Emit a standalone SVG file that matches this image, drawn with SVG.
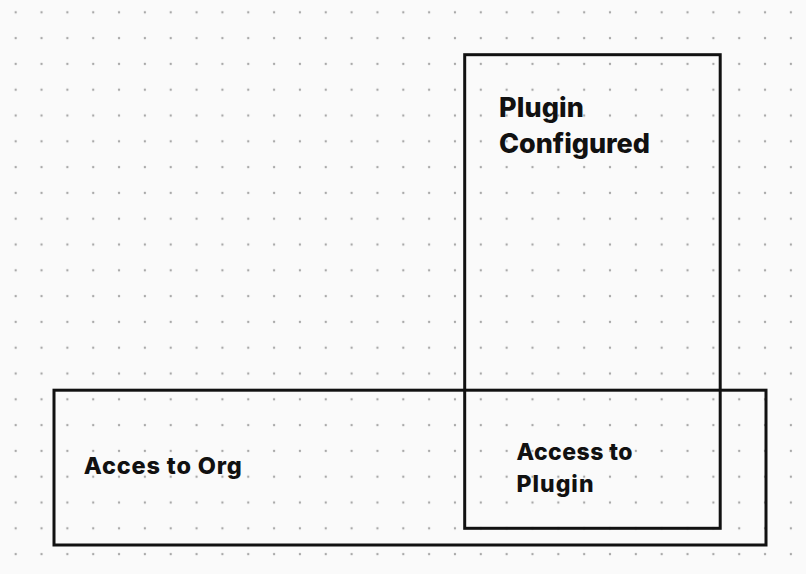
<svg xmlns="http://www.w3.org/2000/svg" width="806" height="574" viewBox="0 0 806 574">
<style>
.box{fill:none;stroke:#111;stroke-width:3}
.lbl{font-family:Inter,"Liberation Sans",sans-serif;font-weight:800;fill:#111}
</style>
<defs>
<pattern id="dots" patternUnits="userSpaceOnUse" x="2.78" y="-0.6" width="25.84" height="25.8">
<circle cx="12.92" cy="12.9" r="1.2" fill="#a8a8a8"/>
</pattern>
</defs>
<rect width="806" height="574" fill="#fafafa"/>
<rect width="806" height="574" fill="url(#dots)"/>
<g id="node-plugin-configured">
<rect class="box" x="464.7" y="54.7" width="255.5" height="473.6"/>
<text class="lbl" font-size="27" x="499" y="117.3" textLength="85" lengthAdjust="spacing">Plugin</text>
<text class="lbl" font-size="27" x="499" y="152.7" textLength="151" lengthAdjust="spacing">Configured</text>
</g>
<g id="node-access-org">
<rect class="box" x="54" y="390.2" width="712" height="154.8"/>
<text class="lbl" font-size="23.5" x="83.8" y="473.5" textLength="158" lengthAdjust="spacing">Acces to Org</text>
</g>
<g id="node-access-plugin">
<text class="lbl" font-size="23" x="516.5" y="460" textLength="116" lengthAdjust="spacing">Access to</text>
<text class="lbl" font-size="23" x="516.5" y="491.7" textLength="77" lengthAdjust="spacing">Plugin</text>
</g>
<g id="connectors"></g>
</svg>
